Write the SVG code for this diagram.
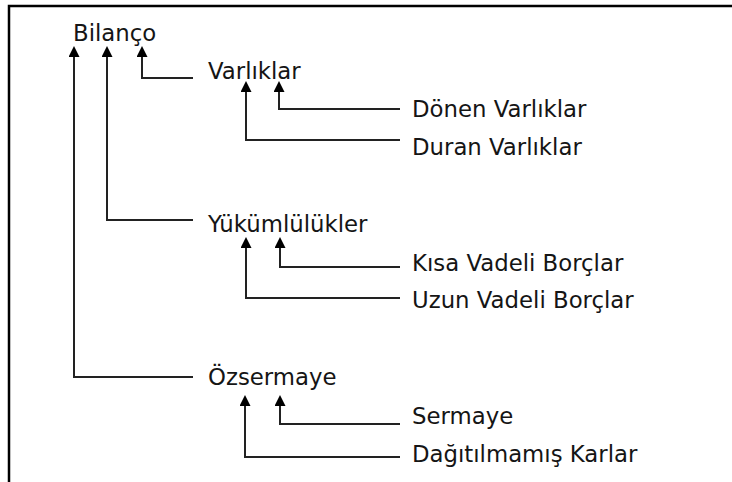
<svg xmlns="http://www.w3.org/2000/svg" width="732" height="482" viewBox="0 0 732 482">
<style>
text{font-family:"DejaVu Sans",Verdana,sans-serif;font-size:22.8px;fill:#151515}
.c{fill:none;stroke:#222;stroke-width:2;marker-end:url(#ah)}
.b{fill:none;stroke:#000;stroke-width:2.5}
</style>
<defs>
<marker id="ah" markerUnits="userSpaceOnUse" markerWidth="12" markerHeight="11" refX="7" refY="5.5" orient="auto">
<path d="M0,0 L11,5.5 L0,11 z" fill="#000"/>
</marker>
</defs>
<rect width="732" height="482" fill="#fff"/>
<path class="b" d="M9,482 V6 H732"/>
<g id="connectors">
<path class="c" d="M193,78 H142 V50"/>
<path class="c" d="M193,220 H107 V50"/>
<path class="c" d="M193,377 H74 V50"/>
<path class="c" d="M400,109 H279 V85"/>
<path class="c" d="M400,140 H246 V85"/>
<path class="c" d="M400,267 H280 V241"/>
<path class="c" d="M400,298 H246 V241"/>
<path class="c" d="M400,424 H280 V399"/>
<path class="c" d="M400,457 H245 V399"/>
</g>
<g id="n-bilanco"><text x="73" y="41">Bilanço</text></g>
<g id="n-varliklar"><text x="208" y="79">Varlıklar</text></g>
<g id="n-donen"><text x="412" y="117">Dönen Varlıklar</text></g>
<g id="n-duran"><text x="412" y="155">Duran Varlıklar</text></g>
<g id="n-yukumlulukler"><text x="208" y="232">Yükümlülükler</text></g>
<g id="n-kisa"><text x="412" y="271">Kısa Vadeli Borçlar</text></g>
<g id="n-uzun"><text x="412" y="308">Uzun Vadeli Borçlar</text></g>
<g id="n-ozsermaye"><text x="208" y="385">Özsermaye</text></g>
<g id="n-sermaye"><text x="412" y="424">Sermaye</text></g>
<g id="n-dagitilmamis"><text x="412" y="462">Dağıtılmamış Karlar</text></g>
</svg>
